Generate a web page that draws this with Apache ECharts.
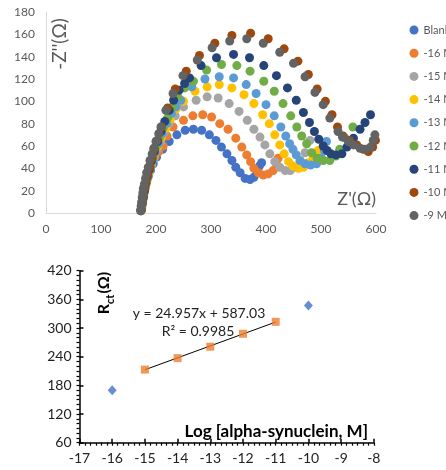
<!DOCTYPE html>
<html><head><meta charset="utf-8">
<script src="https://cdn.jsdelivr.net/npm/echarts@6/dist/echarts.min.js"></script>
<style>html,body{margin:0;padding:0;background:#fff}#c{width:446px;height:470px}</style>
</head><body><div id="c"></div>
<script>
// ---------- Top chart: Nyquist plots (Z', -Z'') ----------
const seriesNames = ['Blank','-16 M','-15 M','-14 M','-13 M','-12 M','-11 M','-10 M','-9 M'];
const seriesColors = ['#4472C4','#ED7D31','#A5A5A5','#FFC000','#5B9BD5','#70AD47','#264478','#9E480E','#636363'];

const blank = [[173,2],[174,5],[175,8],[176,12],[177,16],[179,20],[181,24],[183,28],[186,33],[190,38],[195,44],[201,50],[212,57],[224,64],[238,70],[253,74],[268,75],[283,74],[297,70],[309,65],[319,59],[329,53],[338,47],[345,41],[353,36],[362,31],[371,30],[378,32],[383,38],[388,42],[392,45]];
const m16 = [[173,2],[174,6],[175,10],[176,14],[178,18],[180,22],[182,27],[185,32],[188,37],[192,43],[198,50],[205,55],[213,60],[220,69],[231,77],[250,83],[267,87],[285,88],[301,86],[316,80],[331,75],[345,67],[356,59],[365,52],[372,46],[378,40],[386,36],[395,34],[404,35],[413,38],[419,44],[422,49]];
const m15 = [[173,3],[174,7],[175,11],[177,15],[179,20],[181,25],[184,30],[187,36],[191,42],[196,49],[202,57],[208,64],[215,72],[224,80],[235,87],[250,95],[273,101],[293,104],[313,103],[333,98],[351,91],[366,83],[378,75],[389,68],[398,61],[407,53],[416,46],[425,41],[435,38],[444,38],[453,41],[462,46],[471,54],[480,65]];
const m14 = [[173,3],[174,7],[176,11],[177,16],[179,21],[182,26],[185,31],[188,37],[192,44],[197,52],[203,60],[210,68],[218,76],[226,84],[236,93],[250,100],[271,109],[293,113],[315,115],[338,112],[360,106],[378,98],[394,88],[406,80],[416,70],[425,61],[433,53],[441,46],[449,42],[459,40],[468,41],[477,45],[486,50],[495,56]];
const m13 = [[173,3],[174,8],[176,12],[178,17],[180,22],[182,27],[185,33],[189,39],[193,46],[198,54],[204,62],[211,71],[219,80],[228,89],[236,95],[245,101],[265,113],[289,120],[315,122],[341,121],[364,115],[382,107],[400,97],[415,87],[427,77],[436,69],[443,62],[449,57],[455,52],[462,47],[471,44],[481,43],[492,44],[501,49],[506,56],[510,64]];
const m12 = [[173,3],[175,8],[176,13],[178,18],[180,24],[183,30],[186,36],[190,43],[195,51],[200,59],[206,67],[213,76],[221,85],[230,95],[240,104],[252,112],[268,118],[292,128],[319,133],[347,132],[371,127],[396,118],[415,109],[431,98],[445,87],[456,77],[465,69],[474,62],[483,54],[493,49],[504,47],[516,47],[527,51],[534,57],[544,67],[558,77]];
const m11 = [[173,3],[175,9],[177,14],[179,20],[181,26],[184,32],[188,39],[192,47],[197,55],[203,64],[209,73],[216,82],[224,92],[232,101],[242,110],[252,116],[261,121],[282,132],[310,139],[341,142],[370,139],[396,132],[419,123],[439,112],[455,101],[468,90],[479,81],[488,73],[496,66],[504,60],[511,56],[518,53],[527,52],[538,53],[547,59],[559,67],[571,75],[580,81],[590,88]];
const m10 = [[173,3],[175,9],[177,15],[179,21],[182,27],[185,34],[189,41],[193,49],[197,57],[202,65],[210,77],[221,94],[235,111],[255,127],[279,141],[307,152],[338,159],[372,161],[404,156],[433,147],[458,136],[477,124],[493,111],[508,100],[520,88],[530,77],[540,69],[552,65],[565,61],[577,57],[586,55],[594,59],[599,65]];
const m9 = [[172,2],[173,6],[174,10],[175,14],[176,18],[177,22],[179,26],[181,31],[183,36],[186,41],[189,47],[193,53],[196,58],[200,64],[205,71],[209,77],[218,92],[231,107],[249,123],[275,137],[302,148],[334,154],[365,156],[395,152],[425,144],[450,134],[471,122],[489,108],[504,97],[516,85],[531,73],[539,68],[550,64],[559,61],[571,58],[582,57],[590,59],[595,65],[598,70]];
const nyquistData = [blank, m16, m15, m14, m13, m12, m11, m10, m9];

// ---------- Bottom chart: calibration ----------
const blankLogC = [-16, -10];
const blankRct = [170, 347];
const fitLogC = [-15, -14, -13, -12, -11];
const fitRct = [213, 237, 261, 288, 313];
const slope = 24.957, intercept = 587.03;
const eqText = 'y = 24.957x + 587.03';
const r2Text = 'R² = 0.9985';

const gray = '#595959';
const font = 'Lato, "Liberation Sans", sans-serif';

const chart = echarts.init(document.getElementById('c'), null, {renderer: 'canvas'});

const topSeries = seriesNames.map((n, i) => ({
  name: n, type: 'scatter', xAxisIndex: 0, yAxisIndex: 0,
  symbol: 'circle', symbolSize: 9,
  itemStyle: {color: seriesColors[i], opacity: 1},
  data: nyquistData[i], clip: false, z: 2 + i
}));

// label only every `step` (minor ticks share the same axis)
function everyStep(step) {
  return function (v) {
    const q = v / step, r = Math.round(q);
    return Math.abs(q - r) < 1e-6 ? String(Math.round(r * step)) : '';
  };
}

const plotH2 = 172, plotW2 = 294.3;

const option = {
  animation: false,
  textStyle: {fontFamily: font},
  legend: {
    data: seriesNames, orient: 'vertical', left: 409.5, top: 24,
    icon: 'circle', itemWidth: 9, itemHeight: 9, itemGap: 11.2, padding: 0,
    textStyle: {color: gray, fontSize: 11, lineHeight: 12, fontFamily: font}
  },
  grid: [
    {left: 46, top: 12, width: 330, height: 201},
    {left: 79.5, top: 270.7, width: plotW2, height: plotH2}
  ],
  xAxis: [
    {gridIndex: 0, position: 'bottom', type: 'value', min: 0, max: 600, interval: 100,
     axisLine: {show: true, onZero: false, lineStyle: {color: '#D9D9D9', width: 1}},
     axisTick: {show: false}, splitLine: {show: false},
     axisLabel: {color: gray, fontSize: 12, margin: 10, fontFamily: font}},
    // bottom axis: line, labels at integers, minor+major outside ticks every 1/6
    {gridIndex: 1, position: 'bottom', type: 'value', min: -17, max: -8, interval: 1 / 6,
     axisLine: {show: true, onZero: false, lineStyle: {color: '#000', width: 1.5}},
     splitLine: {show: false},
     axisTick: {show: true, length: 3, lineStyle: {color: '#000', width: 1.2}},
     axisLabel: {color: '#222', fontSize: 14, margin: 9, fontFamily: font, formatter: everyStep(1), showMinLabel: true, showMaxLabel: true}},
    // top axis moved down onto the bottom line: major ticks pointing into the plot
    {gridIndex: 1, position: 'top', offset: -plotH2, type: 'value', min: -17, max: -8, interval: 1,
     axisLine: {show: false, onZero: false}, splitLine: {show: false}, axisLabel: {show: false},
     axisTick: {show: true, length: 4, lineStyle: {color: '#000', width: 1.5}}}
  ],
  yAxis: [
    {gridIndex: 0, position: 'left', type: 'value', min: 0, max: 180, interval: 20,
     axisLine: {show: true, onZero: false, lineStyle: {color: '#D9D9D9', width: 1}},
     axisTick: {show: false}, splitLine: {show: false},
     axisLabel: {color: gray, fontSize: 12, margin: 11, fontFamily: font}},
    {gridIndex: 1, position: 'left', type: 'value', min: 60, max: 420, interval: 10,
     axisLine: {show: true, onZero: false, lineStyle: {color: '#000', width: 1.5}},
     splitLine: {show: false},
     axisTick: {show: true, length: 3, lineStyle: {color: '#000', width: 1.2}},
     axisLabel: {color: '#222', fontSize: 14, margin: 8, fontFamily: font, formatter: everyStep(60)}},
    // right axis moved onto the left line: major ticks pointing into the plot
    {gridIndex: 1, position: 'right', offset: -plotW2, type: 'value', min: 60, max: 420, interval: 60,
     axisLine: {show: false, onZero: false}, splitLine: {show: false}, axisLabel: {show: false},
     axisTick: {show: true, length: 4, lineStyle: {color: '#000', width: 1.5}}}
  ],
  series: topSeries.concat([
    {name: 'trend', type: 'line', xAxisIndex: 1, yAxisIndex: 1, symbol: 'none',
     lineStyle: {color: '#000', width: 1}, z: 3,
     data: [[fitLogC[0], slope * fitLogC[0] + intercept],
            [fitLogC[fitLogC.length - 1], slope * fitLogC[fitLogC.length - 1] + intercept]]},
    {name: 'fit', type: 'scatter', xAxisIndex: 1, yAxisIndex: 1, symbol: 'rect', symbolSize: 8,
     itemStyle: {color: '#ED7D31'}, z: 4,
     data: fitLogC.map((x, i) => [x, fitRct[i]])},
    {name: 'blankR', type: 'scatter', xAxisIndex: 1, yAxisIndex: 1, symbol: 'diamond', symbolSize: [9, 10],
     itemStyle: {color: '#4472C4'}, z: 4,
     data: blankLogC.map((x, i) => [x, blankRct[i]])}
  ]),
  graphic: [
    {type: 'text', x: 60, y: 44, rotation: Math.PI / 2,
     style: {text: "-Z''(Ω)", fill: gray, font: '19px ' + font, textAlign: 'center', textVerticalAlign: 'middle'}},
    {type: 'text', x: 376, y: 199,
     style: {text: "Z'(Ω)", fill: gray, font: '18px ' + font, textAlign: 'right', textVerticalAlign: 'middle'}},
    {type: 'text', x: 199, y: 313,
     style: {text: eqText, fill: '#222', font: '14px ' + font, textAlign: 'center', textVerticalAlign: 'middle'}},
    {type: 'text', x: 198, y: 331,
     style: {text: r2Text, fill: '#222', font: '14px ' + font, textAlign: 'center', textVerticalAlign: 'middle'}},
    {type: 'text', x: 368, y: 432,
     style: {text: 'Log [alpha-synuclein, M]', fill: '#000', font: 'bold 17px ' + font, textAlign: 'right', textVerticalAlign: 'middle'}},
    {type: 'text', x: 102, y: 293, rotation: Math.PI / 2,
     style: {text: '{a|R}{b|ct}{a|(Ω)}', textAlign: 'center', textVerticalAlign: 'middle',
       rich: {a: {fontSize: 16, fontWeight: 'bold', fontFamily: font, fill: '#000', verticalAlign: 'bottom', lineHeight: 20},
              b: {fontSize: 11, fontWeight: 'bold', fontFamily: font, fill: '#000', verticalAlign: 'bottom', lineHeight: 14, padding: [0, 1, -4, 0]}}}}
  ]
};
chart.setOption(option);
</script>
</body></html>
